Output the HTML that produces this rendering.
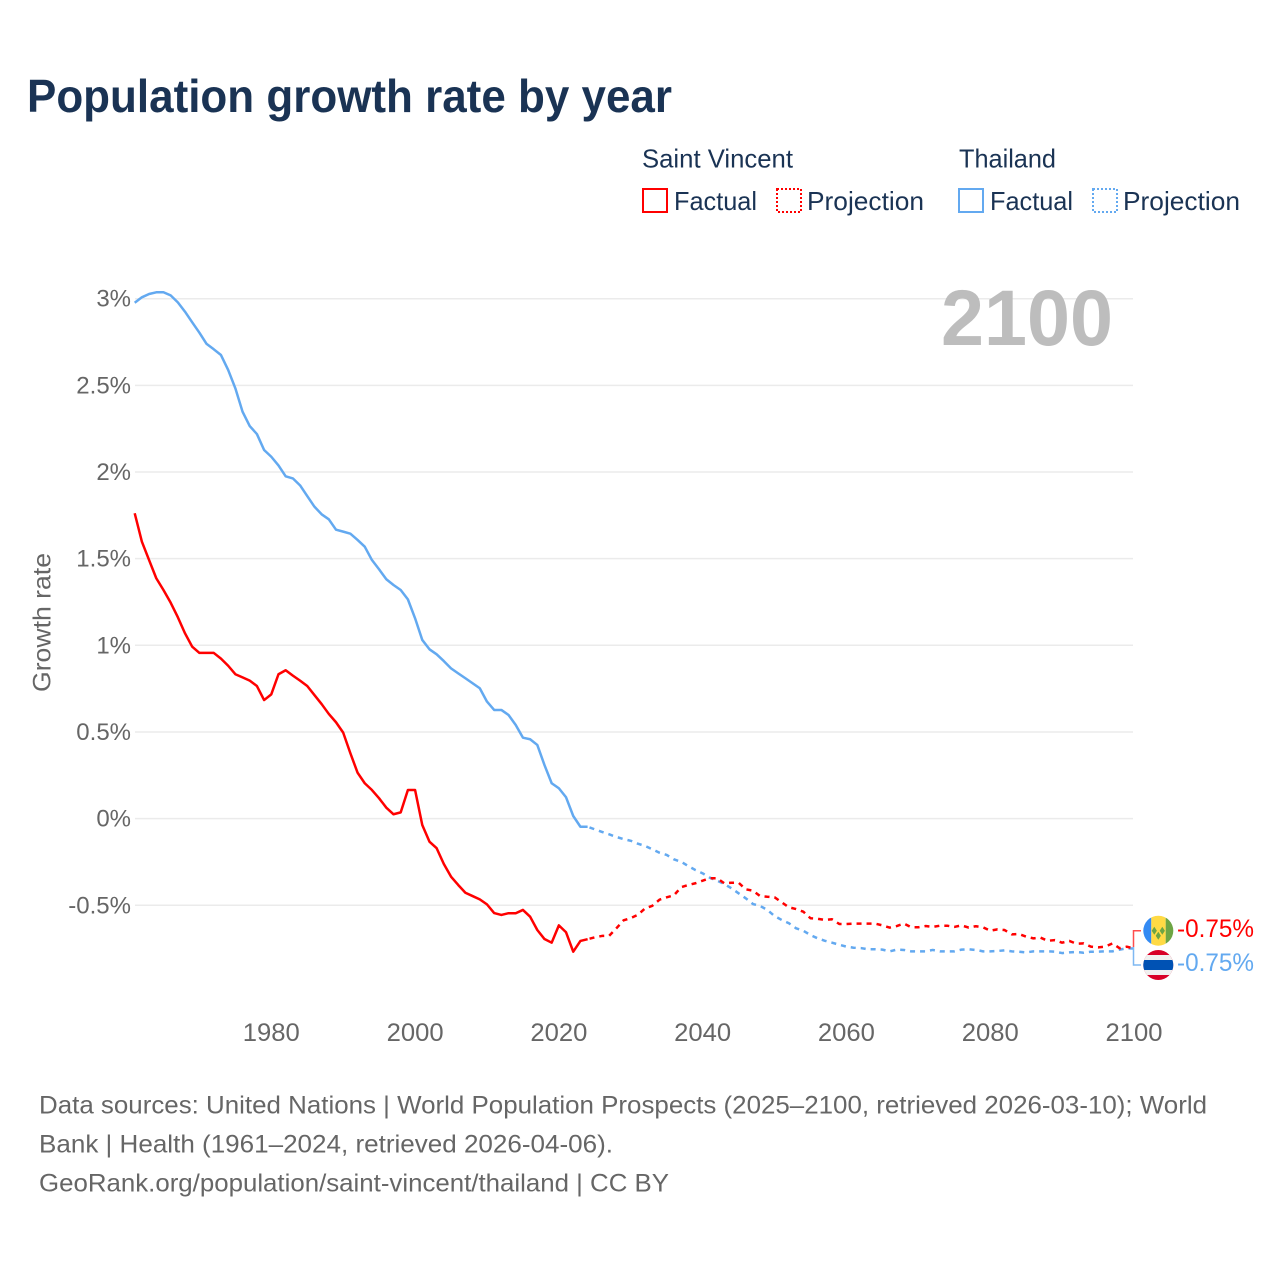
<!DOCTYPE html>
<html lang="en">
<head>
<meta charset="utf-8">
<title>Population growth rate by year</title>
<style>
html,body{margin:0;padding:0;background:#fff}
svg{display:block;font-family:"Liberation Sans",sans-serif}
</style>
</head>
<body>
<svg id="chart" xmlns="http://www.w3.org/2000/svg" width="1280" height="1280" viewBox="0 0 1280 1280">
  <rect x="0" y="0" width="1280" height="1280" fill="#fff"/>
  <text x="27" y="112" font-size="46" font-weight="700" fill="#1a3354" textLength="645" lengthAdjust="spacingAndGlyphs">Population growth rate by year</text>

  <g font-size="26" fill="#1a3354">
    <text x="642" y="167.5" textLength="151" lengthAdjust="spacingAndGlyphs">Saint Vincent</text>
    <text x="959" y="167.5" textLength="97" lengthAdjust="spacingAndGlyphs">Thailand</text>
    <rect x="643" y="189" width="24" height="23" fill="none" stroke="#ff0000" stroke-width="2"/>
    <text x="674" y="210" textLength="83" lengthAdjust="spacingAndGlyphs">Factual</text>
    <rect x="777" y="189" width="24" height="23" fill="none" stroke="#ff0000" stroke-width="2" stroke-dasharray="2 2"/>
    <text x="807" y="210" textLength="117" lengthAdjust="spacingAndGlyphs">Projection</text>
    <rect x="959" y="189" width="24" height="23" fill="none" stroke="#63a9f0" stroke-width="2"/>
    <text x="990" y="210" textLength="83" lengthAdjust="spacingAndGlyphs">Factual</text>
    <rect x="1093" y="189" width="24" height="23" fill="none" stroke="#63a9f0" stroke-width="2" stroke-dasharray="2 2"/>
    <text x="1123" y="210" textLength="117" lengthAdjust="spacingAndGlyphs">Projection</text>
  </g>

  <g id="grid"></g>
  <g id="yTicks" font-size="24" fill="#666"></g>
  <g id="xTicks" font-size="25" fill="#666"></g>

  <text transform="translate(50.5,692) rotate(-90)" font-size="25" fill="#666" textLength="139" lengthAdjust="spacingAndGlyphs">Growth rate</text>
  <text x="941" y="345" font-size="79" font-weight="700" fill="#bdbdbd" textLength="172" lengthAdjust="spacingAndGlyphs">2100</text>

  <g id="series"></g>

  <g>
    <path d="M1133.5 947V930.7H1141" fill="none" stroke="#ff4d4d" stroke-width="1.5"/>
    <path d="M1133.5 947V965H1141" fill="none" stroke="#7fb8f2" stroke-width="1.5"/>
    <defs>
      <clipPath id="clipVc"><circle cx="1158.3" cy="930.7" r="15"/></clipPath>
      <clipPath id="clipTh"><circle cx="1158.3" cy="965" r="15"/></clipPath>
    </defs>
    <g clip-path="url(#clipVc)">
      <rect x="1143" y="915" width="8.3" height="32" fill="#338af3"/>
      <rect x="1151.3" y="915" width="14.4" height="32" fill="#ffda44"/>
      <rect x="1165.7" y="915" width="8" height="32" fill="#6da544"/>
      <path d="M1154.3 926.7l2.6 4-2.6 4-2.6-4zM1162.3 926.7l2.6 4-2.6 4-2.6-4zM1158.3 931.7l2.6 4-2.6 4-2.6-4z" fill="#6da544"/>
    </g>
    <g clip-path="url(#clipTh)">
      <rect x="1143" y="949" width="31" height="32" fill="#d80027"/>
      <rect x="1143" y="955" width="31" height="20" fill="#f0f0f0"/>
      <rect x="1143" y="960" width="31" height="10" fill="#0052b4"/>
    </g>
  </g>
  <g id="endLabels" font-size="25"></g>

  <g font-size="25" fill="#666">
    <text x="39" y="1113.5" textLength="1168" lengthAdjust="spacingAndGlyphs">Data sources: United Nations | World Population Prospects (2025–2100, retrieved 2026-03-10); World</text>
    <text x="39" y="1152.5" textLength="574" lengthAdjust="spacingAndGlyphs">Bank | Health (1961–2024, retrieved 2026-04-06).</text>
    <text x="39" y="1191.5" textLength="630" lengthAdjust="spacingAndGlyphs">GeoRank.org/population/saint-vincent/thailand | CC BY</text>
  </g>
</svg>
<script>
const factualStartYear = 1961;
const projectionStartYear = 2024;
const yTickValues = [3, 2.5, 2, 1.5, 1, 0.5, 0, -0.5];
const yTickLabels = ["3%", "2.5%", "2%", "1.5%", "1%", "0.5%", "0%", "-0.5%"];
const xTickValues = [1980, 2000, 2020, 2040, 2060, 2080, 2100];
const xTickLabels = ["1980", "2000", "2020", "2040", "2060", "2080", "2100"];
const endLabelTexts = ["-0.75%", "-0.75%"];

const thailandFactual = [
  2.977, 3.008, 3.027, 3.037, 3.037, 3.019, 2.979, 2.925, 2.864, 2.804,
  2.739, 2.708, 2.675, 2.589, 2.483, 2.348, 2.265, 2.219, 2.127, 2.088,
  2.038, 1.975, 1.963, 1.923, 1.861, 1.800, 1.756, 1.727, 1.667, 1.656,
  1.644, 1.608, 1.569, 1.492, 1.438, 1.381, 1.348, 1.319, 1.265, 1.156,
  1.031, 0.977, 0.948, 0.909, 0.867, 0.838, 0.810, 0.781, 0.752, 0.675,
  0.627, 0.627, 0.598, 0.540, 0.467, 0.458, 0.425, 0.309, 0.204, 0.175,
  0.123, 0.015, -0.047, -0.047
];
const thailandProjection = [
  -0.047, -0.062, -0.077, -0.091, -0.106, -0.118, -0.128, -0.145, -0.158, -0.177,
  -0.197, -0.210, -0.235, -0.249, -0.274, -0.297, -0.316, -0.341, -0.358, -0.377,
  -0.402, -0.431, -0.460, -0.493, -0.504, -0.527, -0.562, -0.585, -0.604, -0.633,
  -0.647, -0.672, -0.691, -0.705, -0.716, -0.728, -0.739, -0.745, -0.747, -0.754,
  -0.754, -0.756, -0.766, -0.756, -0.758, -0.766, -0.766, -0.766, -0.758, -0.766,
  -0.766, -0.766, -0.756, -0.754, -0.758, -0.766, -0.766, -0.764, -0.760, -0.766,
  -0.768, -0.772, -0.766, -0.766, -0.766, -0.768, -0.776, -0.772, -0.770, -0.774,
  -0.768, -0.768, -0.766, -0.766, -0.756, -0.748, -0.750
];
const saintVincentFactual = [
  1.762, 1.598, 1.492, 1.387, 1.319, 1.246, 1.162, 1.069, 0.992, 0.956,
  0.956, 0.956, 0.923, 0.882, 0.833, 0.815, 0.796, 0.765, 0.684, 0.717,
  0.833, 0.856, 0.825, 0.796, 0.765, 0.713, 0.661, 0.604, 0.556, 0.496,
  0.377, 0.265, 0.204, 0.165, 0.117, 0.063, 0.025, 0.036, 0.165, 0.165,
  -0.037, -0.133, -0.171, -0.262, -0.335, -0.383, -0.428, -0.447, -0.466, -0.495,
  -0.545, -0.556, -0.546, -0.546, -0.527, -0.566, -0.643, -0.695, -0.716, -0.616,
  -0.656, -0.768, -0.706, -0.696
];
const saintVincentProjection = [
  -0.696, -0.685, -0.677, -0.676, -0.633, -0.587, -0.574, -0.555, -0.518, -0.503,
  -0.468, -0.454, -0.443, -0.396, -0.383, -0.373, -0.358, -0.344, -0.344, -0.373,
  -0.370, -0.370, -0.408, -0.416, -0.447, -0.451, -0.454, -0.483, -0.512, -0.522,
  -0.537, -0.575, -0.578, -0.585, -0.581, -0.608, -0.608, -0.606, -0.606, -0.606,
  -0.606, -0.616, -0.629, -0.620, -0.606, -0.627, -0.627, -0.620, -0.625, -0.618,
  -0.618, -0.625, -0.616, -0.629, -0.621, -0.627, -0.647, -0.639, -0.643, -0.668,
  -0.666, -0.681, -0.691, -0.687, -0.705, -0.701, -0.716, -0.706, -0.722, -0.720,
  -0.739, -0.743, -0.739, -0.720, -0.748, -0.739, -0.750
];

const NS = 'http://www.w3.org/2000/svg';
const RED = '#ff0000';
const BLUE = '#63a9f0';
function xScale(year) { return 134.7 + (year - 1961) * (1134 - 134.7) / (2100 - 1961); }
function yScale(value) { return 818.6 - value * 173.3; }
function linePath(values, startYear) {
  return values.map(function (v, i) {
    return (i ? 'L' : 'M') + xScale(startYear + i).toFixed(2) + ' ' + yScale(v).toFixed(2);
  }).join('');
}

const grid = document.getElementById('grid');
const yTicks = document.getElementById('yTicks');
yTickValues.forEach(function (v, i) {
  const line = document.createElementNS(NS, 'line');
  
  
  line.setAttribute('x1', 135);
  line.setAttribute('x2', 1133);
  line.setAttribute('y1', yScale(v));
  line.setAttribute('y2', yScale(v));
  line.setAttribute('stroke', '#ebebeb');
  line.setAttribute('stroke-width', '1.5');
  grid.appendChild(line);
  const label = document.createElementNS(NS, 'text');
  
  
  label.setAttribute('x', 131);
  label.setAttribute('y', yScale(v) + 8);
  label.setAttribute('text-anchor', 'end');
  label.textContent = yTickLabels[i];
  yTicks.appendChild(label);
});

const xTicks = document.getElementById('xTicks');
xTickValues.forEach(function (year, i) {
  const label = document.createElementNS(NS, 'text');
  
  
  label.setAttribute('x', xScale(year));
  label.setAttribute('y', 1041);
  label.setAttribute('text-anchor', 'middle');
  label.setAttribute('textLength', '57');
  label.setAttribute('lengthAdjust', 'spacingAndGlyphs');
  label.textContent = xTickLabels[i];
  xTicks.appendChild(label);
});

const series = document.getElementById('series');
function addSeries(name, values, startYear, color, dashed) {
  const path = document.createElementNS(NS, 'path');
  
  
  path.setAttribute('d', linePath(values, startYear));
  path.setAttribute('fill', 'none');
  path.setAttribute('stroke', color);
  path.setAttribute('stroke-width', '2.5');
  path.setAttribute('stroke-linejoin', 'round');
  if (dashed) {
    path.setAttribute('stroke-dasharray', '5 5');
    path.setAttribute('stroke-dashoffset', '-2');
  }
  series.appendChild(path);
}
addSeries('thailand-factual-line', thailandFactual, factualStartYear, BLUE, false);
addSeries('thailand-projection-line', thailandProjection, projectionStartYear, BLUE, true);
addSeries('saint-vincent-factual-line', saintVincentFactual, factualStartYear, RED, false);
addSeries('saint-vincent-projection-line', saintVincentProjection, projectionStartYear, RED, true);

const endLabels = document.getElementById('endLabels');
const endSaintVincent = document.createElementNS(NS, 'text');


endSaintVincent.setAttribute('x', 1177);
endSaintVincent.setAttribute('y', 937);
endSaintVincent.setAttribute('fill', RED);
endSaintVincent.setAttribute('textLength', '77');
endSaintVincent.setAttribute('lengthAdjust', 'spacingAndGlyphs');
endSaintVincent.textContent = endLabelTexts[0];
endLabels.appendChild(endSaintVincent);
const endThailand = document.createElementNS(NS, 'text');


endThailand.setAttribute('x', 1177);
endThailand.setAttribute('y', 971);
endThailand.setAttribute('fill', BLUE);
endThailand.setAttribute('textLength', '77');
endThailand.setAttribute('lengthAdjust', 'spacingAndGlyphs');
endThailand.textContent = endLabelTexts[1];
endLabels.appendChild(endThailand);
</script>
</body>
</html>
